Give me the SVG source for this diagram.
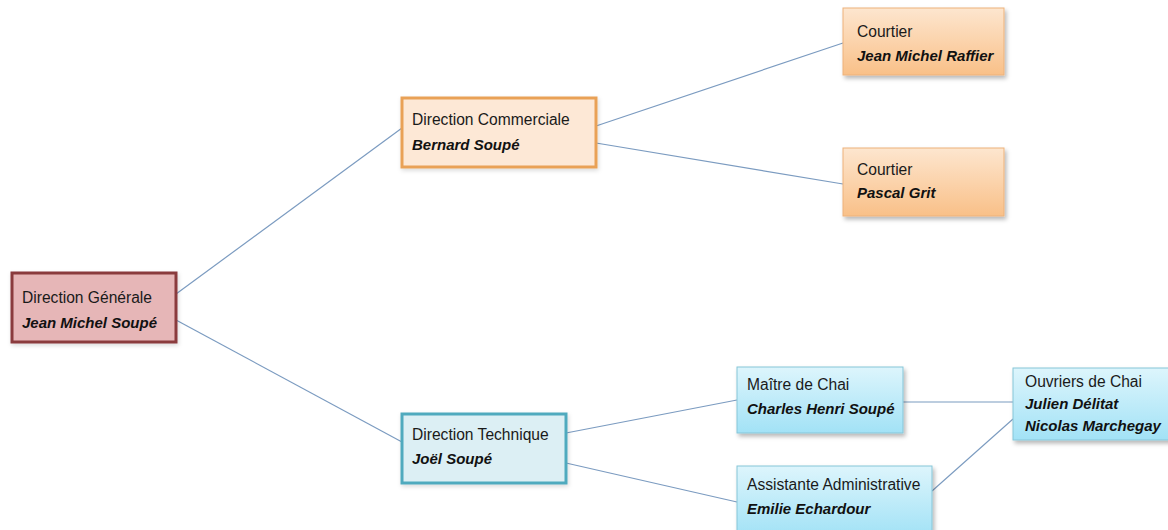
<svg xmlns="http://www.w3.org/2000/svg" width="1168" height="530" viewBox="0 0 1168 530">
  <defs>
    <linearGradient id="gradOrange" x1="0" y1="0" x2="0" y2="1">
      <stop offset="0" stop-color="#FDE6CF"/>
      <stop offset="1" stop-color="#F9C088"/>
    </linearGradient>
    <linearGradient id="gradBlue" x1="0" y1="0" x2="0" y2="1">
      <stop offset="0" stop-color="#DDF5FC"/>
      <stop offset="1" stop-color="#A2E2F6"/>
    </linearGradient>
    <filter id="shadow" x="-10%" y="-10%" width="125%" height="135%">
      <feDropShadow dx="2" dy="3" stdDeviation="2" flood-color="#000" flood-opacity="0.28"/>
    </filter>
    <filter id="softShadow" x="-10%" y="-10%" width="125%" height="135%">
      <feDropShadow dx="1" dy="2" stdDeviation="2" flood-color="#000" flood-opacity="0.15"/>
    </filter>
  </defs>
  <style>
    .title { font-family: "Liberation Sans", Arial, sans-serif; font-size: 15.6px; fill: #1a1a1a; }
    .name { font-family: "Liberation Sans", Arial, sans-serif; font-size: 15px; font-weight: bold; font-style: italic; fill: #111; }
    .link { stroke: #7B9BC0; stroke-width: 1.2; fill: none; }
    .dg { fill: #E6B6B7; stroke: #8A3A3C; stroke-width: 3; filter: url(#softShadow); }
    .dc { fill: #FDE8D6; stroke: #E9A157; stroke-width: 3; filter: url(#softShadow); }
    .dt { fill: #DCEFF4; stroke: #4FAABE; stroke-width: 3; filter: url(#softShadow); }
    .orange { fill: url(#gradOrange); stroke: #EDB27A; stroke-width: 1; filter: url(#shadow); }
    .blue { fill: url(#gradBlue); stroke: #86C5D8; stroke-width: 1; filter: url(#shadow); }
  </style>
  <rect width="1168" height="530" fill="#ffffff"/>

  <!-- connectors -->
  <g id="connectors">
    <line class="link" x1="176" y1="294" x2="402" y2="128"/>
    <line class="link" x1="176" y1="320" x2="402" y2="442"/>
    <line class="link" x1="596" y1="126" x2="843" y2="43"/>
    <line class="link" x1="596" y1="143" x2="843" y2="184"/>
    <line class="link" x1="566" y1="433" x2="737" y2="400"/>
    <line class="link" x1="566" y1="463" x2="737" y2="502"/>
    <line class="link" x1="903" y1="402" x2="1013" y2="402"/>
    <line class="link" x1="932" y1="491" x2="1013" y2="419"/>
  </g>

  <!-- Direction Générale -->
  <g id="direction-generale">
    <rect class="dg" x="12" y="273" width="164" height="69"/>
    <text class="title" x="22" y="303">Direction Générale</text>
    <text class="name" x="22" y="328">Jean Michel Soupé</text>
  </g>

  <!-- Direction Commerciale -->
  <g id="direction-commerciale">
    <rect class="dc" x="402" y="98" width="194" height="69"/>
    <text class="title" x="412" y="125">Direction Commerciale</text>
    <text class="name" x="412" y="150">Bernard Soupé</text>
  </g>

  <!-- Courtier 1 -->
  <g id="courtier-raffier">
    <rect class="orange" x="843" y="8" width="161" height="67"/>
    <text class="title" x="857" y="37">Courtier</text>
    <text class="name" x="857" y="61">Jean Michel Raffier</text>
  </g>

  <!-- Courtier 2 -->
  <g id="courtier-grit">
    <rect class="orange" x="843" y="148" width="161" height="68"/>
    <text class="title" x="857" y="175">Courtier</text>
    <text class="name" x="857" y="198">Pascal Grit</text>
  </g>

  <!-- Direction Technique -->
  <g id="direction-technique">
    <rect class="dt" x="402" y="414" width="164" height="69"/>
    <text class="title" x="412" y="440">Direction Technique</text>
    <text class="name" x="412" y="464">Joël Soupé</text>
  </g>

  <!-- Maître de Chai -->
  <g id="maitre-de-chai">
    <rect class="blue" x="737" y="367" width="166" height="66"/>
    <text class="title" x="747" y="390">Maître de Chai</text>
    <text class="name" x="747" y="414">Charles Henri Soupé</text>
  </g>

  <!-- Assistante Administrative -->
  <g id="assistante-administrative">
    <rect class="blue" x="737" y="466" width="195" height="70"/>
    <text class="title" x="747" y="490">Assistante Administrative</text>
    <text class="name" x="747" y="514">Emilie Echardour</text>
  </g>

  <!-- Ouvriers de Chai -->
  <g id="ouvriers-de-chai">
    <rect class="blue" x="1013" y="368" width="162" height="72"/>
    <text class="title" x="1025" y="387">Ouvriers de Chai</text>
    <text class="name" x="1025" y="409">Julien Délitat</text>
    <text class="name" x="1025" y="431">Nicolas Marchegay</text>
  </g>
</svg>
